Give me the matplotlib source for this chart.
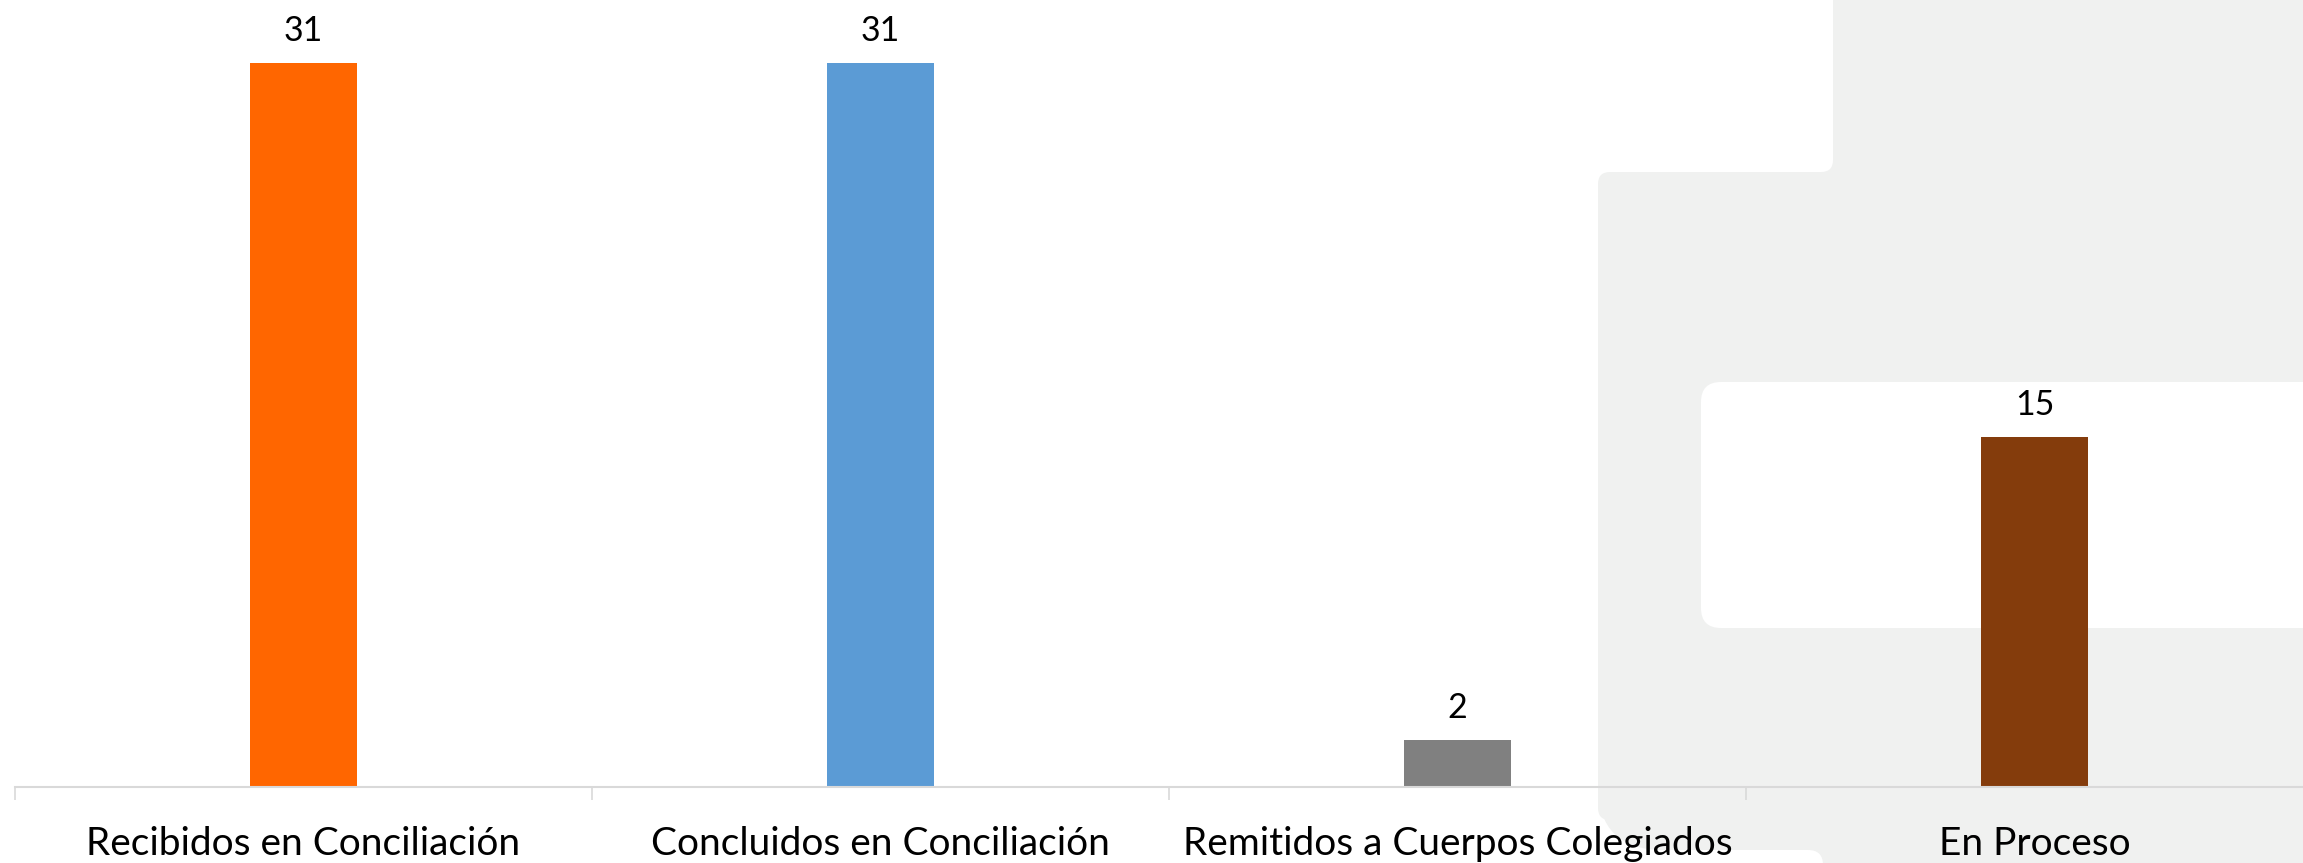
import numpy as np
import matplotlib
matplotlib.use("Agg")
import matplotlib.pyplot as plt
import matplotlib.patches as mpatches

plt.rcParams["savefig.bbox"] = "standard"

categories = ["Recibidos en Conciliación",
              "Concluidos en Conciliación",
              "Remitidos a Cuerpos Colegiados",
              "En Proceso"]
values = [31, 31, 2, 15]
bar_colors = ["#FF6600", "#5B9BD5", "#808080", "#843C0C"]

W, H = 2303, 863
fig = plt.figure(figsize=(W / 100, H / 100), dpi=100)
fig.patch.set_facecolor("white")

# background decoration, in pixel units (y down)
bg = fig.add_axes([0, 0, 1, 1], zorder=0)
bg.set_xlim(0, W)
bg.set_ylim(H, 0)
bg.axis("off")
grey = "#F0F1F0"

def rbox(x0, y0, x1, y1, r, color):
    p = mpatches.FancyBboxPatch((x0 + r, y0 + r), (x1 - x0) - 2 * r, (y1 - y0) - 2 * r,
                                boxstyle="round,pad=%f" % r, fc=color, ec="none")
    bg.add_patch(p)

bg.add_patch(mpatches.Rectangle((1750, -50), 800, 450, fc=grey, ec="none"))
bg.add_patch(mpatches.Rectangle((1750, 700), 800, 300, fc=grey, ec="none"))
rbox(1598, 172, 2500, 820, 12, grey)
rbox(1598, 400, 2500, 850, 65, grey)
rbox(-100, -100, 1833, 172, 12, "white")
rbox(-100, 850, 1823, 1000, 15, "white")
rbox(1701, 382, 2500, 628, 20, "white")

# chart
px_per_unit = 23.35
cat_w = 577.0
ax = fig.add_axes([15 / W, (H - 787) / H, (W - 15) / W, 787 / H], zorder=1)
ax.patch.set_alpha(0)
x = np.arange(len(categories))
bars = ax.bar(x, values, width=107 / cat_w, color=bar_colors)
ax.set_xlim(-0.5, -0.5 + (W - 15) / cat_w)
ax.set_ylim(0, 787 / px_per_unit)

for b, v in zip(bars, values):
    ax.annotate(str(v), (b.get_x() + b.get_width() / 2, v), xytext=(0, 22),
                textcoords="offset pixels", ha="center", va="baseline",
                fontsize=24.5, family="Lato", color="black")

for s in ["top", "left", "right"]:
    ax.spines[s].set_visible(False)
ax.spines["bottom"].set_color("#D9D9D9")
ax.spines["bottom"].set_linewidth(1.5)
ax.set_yticks([])
ax.set_xticks(x)
ax.set_xticklabels(categories, fontsize=28, family="Lato")
ax.set_xticks(np.arange(len(categories)) - 0.5, minor=True)
ax.tick_params(axis="x", which="major", length=0, pad=49)
ax.tick_params(axis="x", which="minor", length=9.4, width=1.2, color="#D9D9D9")
for lbl in ax.get_xticklabels():
    lbl.set_va("baseline")

fig.savefig("out.png", dpi=100)
